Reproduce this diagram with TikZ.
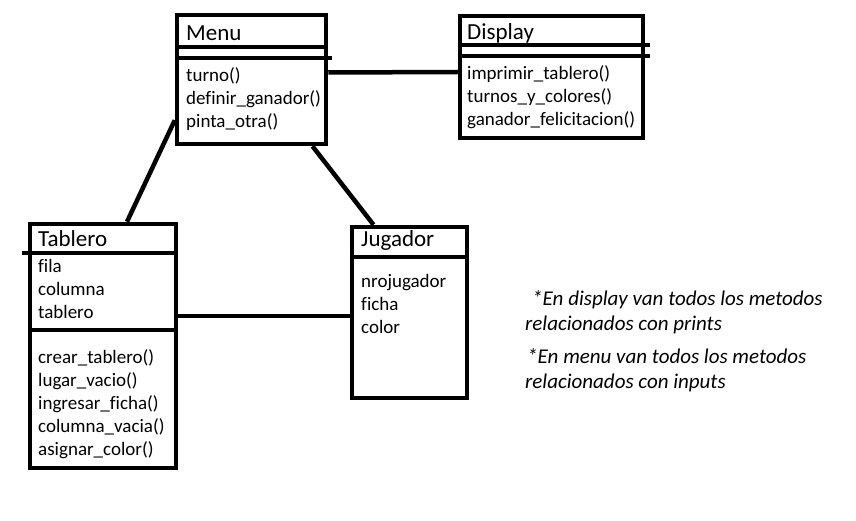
\documentclass[tikz,border=0pt]{standalone}
\usepackage{fontspec}
\setmainfont{Carlito}[Ligatures=NoCommon]
\usetikzlibrary{calc}
\tikzset{
  classbox/.style={draw=black, line width=4.5pt, inner sep=0pt, fill=white},
  classname/.style={anchor=base west, inner sep=0pt, font=\fontsize{23}{28}\selectfont},
  members/.style={anchor=base west, inner sep=0pt, align=left,
                  font=\fontsize{19}{23}\selectfont},
  rule/.style={line width=4.5pt},
  link/.style={line width=4.5pt},
  note/.style={anchor=base west, inner sep=0pt, align=left,
               font=\itshape\fontsize{21}{25}\selectfont},
}

\begin{document}
\begin{tikzpicture}[x=1pt, y=-1pt]
  \useasboundingbox[fill=white] (0,0) rectangle (856,521);

  % class boxes
  \node[classbox, minimum width=149pt, minimum height=129pt] (menu)    at (251.5,79.5) {};
  \node[classbox, minimum width=183pt, minimum height=122pt] (display) at (551.5,77)   {};
  \node[classbox, minimum width=146pt, minimum height=244pt] (tab)     at (103,346)    {};
  \node[classbox, minimum width=115pt, minimum height=171pt] (jug)     at (409.5,312.5){};

  % Menu (lists are placed by their last baseline)
  \node[classname] (menuname) at (186,41) {Menu};
  \draw[rule] (menu.west |- 0,47) -- (menu.east |- 0,47);
  \draw[rule] (menu.west |- 0,58) -- ($(menu.east |- 0,58)+(4,0)$);
  \node[members] (menuops) at (186,128) {turno()\\definir\_ganador()\\pinta\_otra()};

  % Display
  \node[classname] (dispname) at (467,40) {Display};
  \draw[rule] (display.west |- 0,45) -- ($(display.east |- 0,45)+(5,0)$);
  \draw[rule] (display.west |- 0,56) -- ($(display.east |- 0,56)+(5,0)$);
  \node[members] (dispops) at (467,126)
    {imprimir\_tablero()\\turnos\_y\_colores()\\ganador\_felicitacion()};

  % Tablero
  \node[classname] (tabname) at (38,247) {Tablero};
  \draw[rule] ($(tab.west |- 0,253)+(-6,0)$) -- (tab.east |- 0,253);
  \node[members] (tabattr) at (38,318) {fila\\columna\\tablero};
  \draw[rule] (tab.west |- 0,330) -- (tab.east |- 0,330);
  \node[members] (tabops) at (38,455)
    {crear\_tablero()\\lugar\_vacio()\\ingresar\_ficha()\\columna\_vacia()\\asignar\_color()};

  % Jugador
  \node[classname] (jugname) at (361,247) {Jugador};
  \draw[rule] (jug.west |- 0,257) -- (jug.east |- 0,257);
  \node[members] (jugattr) at (361,333) {nrojugador\\ficha\\color};

  % associations
  \draw[link] ([yshift=7pt]menu.east) -- ([yshift=5pt]display.west);
  \draw[link] ([yshift=26pt]menu.south west) -- ([xshift=24pt]tab.north);
  \draw[link] ([xshift=61pt]menu.south) -- ([xshift=-36pt]jug.north);
  \draw[link] ([yshift=30pt]tab.east) -- ([yshift=-3.5pt]jug.west);

  % notes
  \node[note] (note1) at (525,330)
    {\hspace*{7pt}*En display van todos los metodos\\relacionados con prints};
  \node[note] (note2) at (525,388)
    {\hspace*{2pt}*En menu van todos los metodos\\relacionados con inputs};
\end{tikzpicture}
\end{document}
